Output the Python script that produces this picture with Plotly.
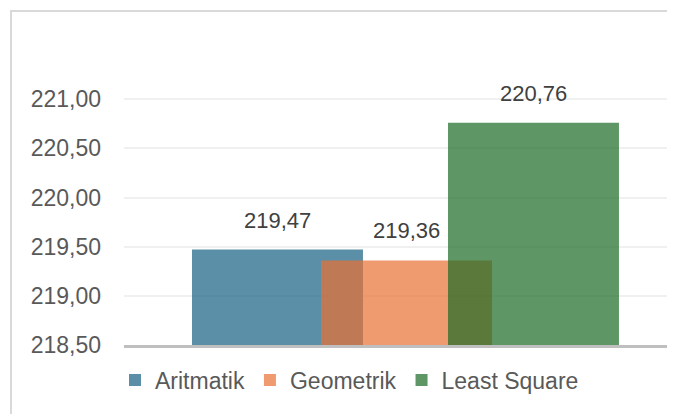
import plotly.graph_objects as go

categories = ["Proyeksi"]
series_names = ["Aritmatik", "Geometrik", "Least Square"]
values = [219.47, 219.36, 220.76]
colors = ["rgba(21,96,130,0.7)", "rgba(233,113,50,0.7)", "rgba(25,107,36,0.7)"]
y_ticks = [218.5, 219.0, 219.5, 220.0, 220.5, 221.0]

# layout geometry; the page body adds an 8px margin, so figure coords = window - 8
BODY = 8
W, H = 675, 414 - BODY
PL, PR, PT, PB = 124 - BODY, 675 - BODY, 50 - BODY, 345 - BODY
bar_w = 0.3103
offsets = [-0.3766, -0.1425, 0.088]
FONT = "Liberation Sans, Arial, sans-serif"

fig = go.Figure()
for name, v, c, off in zip(series_names, values, colors, offsets):
    fig.add_trace(go.Bar(
        x=categories, y=[v], name=name,
        marker=dict(color=c, line=dict(width=0)),
        offset=off, width=bar_w,
        hoverinfo="skip",
    ))
    fig.add_annotation(
        x=0 + off + bar_w / 2, y=v, xref="x", yref="y",
        text=f"{v:.2f}".replace(".", ","),
        showarrow=False, yanchor="bottom", yshift=15,
        font=dict(size=22, color="#404040", family=FONT),
    )

pw = PR - PL
ph = PB - PT
fig.add_shape(type="rect", xref="paper", yref="paper",
              x0=(11 - BODY - PL) / pw, x1=1.2, y0=-0.5, y1=(PB - (11 - BODY)) / ph,
              line=dict(color="#d9d9d9", width=2), fillcolor="rgba(0,0,0,0)", layer="below")

fig.update_layout(
    width=W, height=H,
    margin=dict(l=PL, r=W - PR, t=PT, b=H - PB, autoexpand=False),
    barmode="overlay",
    separators=",.",
    plot_bgcolor="white", paper_bgcolor="white",
    font=dict(family=FONT, size=23, color="#595959"),
    showlegend=True,
    legend=dict(orientation="h", x=(115 - BODY - PL) / pw, xanchor="left",
                y=(PB - (380 - BODY)) / ph, yanchor="middle",
                font=dict(size=23, color="#595959"), itemwidth=30,
                traceorder="normal"),
    xaxis=dict(range=[-0.5, 0.5], showticklabels=False, showgrid=False,
               showline=True, linecolor="#bfbfbf", linewidth=3, ticks="", fixedrange=True),
    yaxis=dict(range=[218.5, 221.5], tickvals=y_ticks, tickformat=".2f",
               showgrid=True, gridcolor="#f0f0f0", gridwidth=1.5,
               zeroline=False, showline=False, ticks="", ticklabelstandoff=22,
               tickfont=dict(size=23, color="#595959")),
)

fig.write_html("out.html")
